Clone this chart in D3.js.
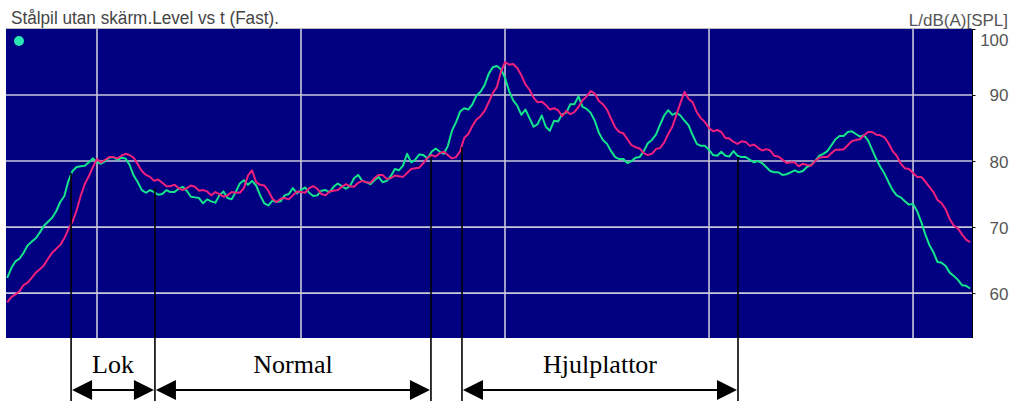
<!DOCTYPE html>
<html>
<head>
<meta charset="utf-8">
<script src="https://cdn.jsdelivr.net/npm/d3@7/dist/d3.min.js"></script>
<style>
  html, body { margin: 0; padding: 0; background: #fff; }
  svg { display: block; }
</style>
</head>
<body>
<svg id="chart"></svg>
<script>
// level vs time, read every 0.02 s starting at 0.56 s
const T0 = 0.56, DT = 0.02;

const green = [
  62.3, 63.8, 64.8, 65.2, 66.1, 67.2, 67.8, 68.3, 69.2, 70.2,
  70.8, 71.4, 72.4, 73.8, 74.7, 77.0, 78.5, 79.1, 79.2, 79.3,
  79.8, 80.4, 79.8, 79.6, 80.0, 80.5, 80.6, 80.2, 80.5, 80.4,
  79.4, 77.8, 76.8, 75.6, 75.2, 75.6, 75.3, 74.9, 75.0, 75.6,
  75.3, 75.3, 75.8, 76.1, 75.5, 74.6, 74.5, 74.4, 73.6, 74.2,
  73.9, 73.7, 74.8, 75.4, 74.4, 74.2, 75.3, 76.6, 77.1, 76.4,
  77.0, 76.3, 74.8, 73.6, 73.3, 74.0, 73.8, 73.9, 74.8, 75.0,
  75.9, 75.1, 75.6, 76.0, 75.2, 74.7, 74.8, 75.5, 75.6, 75.3,
  76.1, 76.6, 76.2, 75.8, 76.2, 77.4, 77.9, 77.0, 76.8, 76.5,
  77.1, 77.6, 76.8, 77.0, 77.7, 78.8, 78.6, 79.3, 81.1, 79.8,
  80.2, 81.0, 80.9, 80.4, 81.4, 81.9, 81.4, 81.1, 82.3, 84.6,
  85.9, 87.5, 88.0, 87.8, 88.6, 89.9, 90.5, 91.5, 93.2, 94.2,
  94.4, 93.9, 92.6, 90.6, 89.2, 88.4, 87.0, 87.8, 86.5, 85.2,
  85.6, 86.9, 85.2, 84.6, 86.1, 86.0, 87.1, 87.3, 88.6, 88.6,
  89.8, 88.2, 87.9, 87.3, 86.1, 84.3, 83.2, 82.6, 81.5, 80.6,
  80.3, 80.3, 79.7, 80.0, 80.5, 80.6, 81.5, 82.7, 83.2, 84.0,
  85.5, 86.9, 87.7, 87.0, 87.3, 86.9, 86.1, 85.4, 83.9, 82.6,
  82.3, 82.3, 81.7, 80.9, 80.8, 81.4, 80.8, 80.7, 81.5, 80.8,
  80.6, 80.6, 80.2, 79.8, 80.0, 79.7, 79.1, 78.5, 78.3, 78.3,
  77.9, 78.0, 78.3, 78.6, 78.3, 78.5, 79.1, 79.4, 80.0, 80.8,
  81.1, 81.5, 82.4, 83.3, 83.8, 83.8, 84.4, 84.5, 84.1, 83.7,
  83.9, 83.1, 81.7, 80.3, 79.1, 78.1, 76.8, 75.6, 74.8, 74.5,
  73.9, 73.4, 73.5, 72.4, 70.8, 68.9, 67.3, 66.2, 64.7, 64.6,
  64.1, 63.1, 62.6, 62.0, 61.2, 61.1, 60.7
];

const pink = [
  58.6, 59.4, 59.8, 60.3, 61.2, 61.6, 62.3, 63.1, 63.6, 64.2,
  65.2, 66.1, 66.7, 67.3, 68.3, 69.7, 70.8, 72.5, 74.7, 76.5,
  77.7, 79.1, 80.3, 79.8, 80.2, 80.6, 80.6, 80.4, 80.8, 81.1,
  80.9, 80.5, 79.5, 78.5, 77.9, 77.6, 77.0, 77.2, 76.7, 76.2,
  76.2, 76.4, 75.9, 75.6, 75.9, 76.3, 76.1, 75.5, 75.6, 75.4,
  74.8, 75.3, 75.0, 74.6, 74.8, 75.3, 75.2, 75.2, 75.9, 77.8,
  78.6, 76.8, 76.4, 76.3, 75.5, 74.3, 73.8, 74.3, 74.4, 74.2,
  74.8, 75.4, 75.3, 75.2, 75.9, 76.2, 75.8, 75.0, 74.8, 75.4,
  75.5, 75.6, 76.1, 76.5, 76.2, 76.1, 76.7, 77.0, 76.8, 76.7,
  77.4, 77.9, 77.9, 77.3, 77.4, 77.8, 77.7, 77.6, 78.2, 78.8,
  78.9, 79.0, 79.7, 80.5, 80.9, 80.7, 81.2, 81.4, 80.9, 80.4,
  80.6, 81.5, 83.5, 84.1, 85.3, 86.3, 86.8, 87.6, 88.9, 90.3,
  91.2, 93.5, 95.0, 94.6, 94.7, 94.1, 93.0, 91.6, 90.8, 89.6,
  88.9, 89.0, 88.5, 87.8, 88.0, 87.7, 86.8, 87.6, 87.1, 87.4,
  88.2, 89.2, 89.8, 90.6, 90.2, 89.1, 88.6, 87.8, 86.4, 85.1,
  84.4, 84.2, 83.3, 82.4, 82.1, 81.9, 81.2, 80.9, 81.1, 81.8,
  82.0, 82.8, 84.1, 85.2, 87.0, 88.8, 90.5, 89.4, 88.9, 87.4,
  86.5, 85.9, 85.0, 84.5, 84.7, 84.4, 83.5, 83.4, 82.9, 82.6,
  83.0, 82.9, 82.3, 82.5, 82.0, 81.6, 81.8, 81.6, 80.8, 80.7,
  80.2, 79.7, 79.8, 79.8, 79.2, 79.6, 79.4, 79.3, 80.0, 80.5,
  80.6, 80.6, 81.2, 81.7, 81.7, 81.8, 82.4, 83.0, 83.2, 83.3,
  83.9, 84.4, 84.4, 84.0, 83.9, 83.6, 82.7, 81.5, 80.8, 79.6,
  78.9, 78.8, 78.2, 77.6, 77.6, 76.9, 76.1, 75.3, 74.1, 73.6,
  72.7, 71.2, 70.2, 69.8, 68.9, 68.1, 67.7
];

const yTicks = [60, 70, 80, 90, 100];
const xGrid = [1, 2, 3, 4, 5];

// segments marked under the plot: start/end time and level where the marker meets the curve
const segNames = ["Lok", "Normal", "Hjulplattor"];
const segStart = [0.873, 1.284, 2.789];
const segEnd = [1.284, 2.637, 4.142];
const markT = [0.873, 1.284, 2.637, 2.789, 4.142];
const markL = [78.2, 75.9, 80.6, 82.1, 80.6];

const titleText = "Stålpil utan skärm.Level vs t (Fast).";
const unitText = "L/dB(A)[SPL]";

const W = 1012, H = 401;
const plot = { left: 6, right: 972, top: 29, bottom: 338 };

const svg = d3.select("#chart").attr("width", W).attr("height", H);

const x = d3.scaleLinear().domain([0.554, 5.289]).range([plot.left, plot.right]);
const y = d3.scaleLinear().domain([53.2, 100]).range([plot.bottom, plot.top]);

svg.append("defs").append("clipPath").attr("id", "clip")
  .append("rect")
  .attr("x", plot.left).attr("y", plot.top)
  .attr("width", plot.right - plot.left).attr("height", plot.bottom - plot.top);

svg.append("rect")
  .attr("x", plot.left).attr("y", plot.top)
  .attr("width", plot.right - plot.left).attr("height", plot.bottom - plot.top)
  .attr("fill", "#000080");

// grid
svg.append("g").selectAll("line").data(yTicks.filter(d => d < 100)).join("line")
  .attr("x1", plot.left).attr("x2", plot.right)
  .attr("y1", d => y(d)).attr("y2", d => y(d))
  .attr("stroke", "#c8c8da").attr("stroke-width", 1.6);

svg.append("g").selectAll("line").data(xGrid).join("line")
  .attr("x1", d => x(d)).attr("x2", d => x(d))
  .attr("y1", plot.top).attr("y2", plot.bottom)
  .attr("stroke", "#c8c8da").attr("stroke-width", 1.6);

// top border and right axis
svg.append("line")
  .attr("x1", plot.left).attr("x2", plot.right)
  .attr("y1", plot.top - 0.5).attr("y2", plot.top - 0.5)
  .attr("stroke", "#bbb").attr("stroke-width", 1);

const axis = d3.axisRight(y).tickValues(yTicks).tickSize(3).tickFormat(d3.format("d"));
const ax = svg.append("g")
  .attr("transform", `translate(${plot.right + 0.5},0)`)
  .call(axis);
ax.select(".domain").attr("stroke", "#000").attr("d", `M0,${plot.top}V${plot.bottom}`);
ax.selectAll(".tick line").attr("stroke", "#000");
ax.selectAll(".tick text")
  .attr("x", 36)
  .attr("text-anchor", "end")
  .attr("fill", "#555")
  .style("font", "17px 'Liberation Sans', Arial, sans-serif")
  .attr("dy", d => d === 100 ? "0.95em" : "0.35em");

// series
const line = d3.line()
  .x((d, i) => x(T0 + i * DT))
  .y(d => y(d));

const lines = svg.append("g").attr("clip-path", "url(#clip)");
lines.append("path").datum(green)
  .attr("d", line).attr("fill", "none")
  .attr("stroke", "#14e48c").attr("stroke-width", 2).attr("stroke-linejoin", "round");
lines.append("path").datum(pink)
  .attr("d", line).attr("fill", "none")
  .attr("stroke", "#f0207c").attr("stroke-width", 2).attr("stroke-linejoin", "round");

// legend dot
svg.append("circle")
  .attr("cx", 19).attr("cy", 41).attr("r", 5)
  .attr("fill", "#2ae6b4");

// titles
svg.append("text")
  .attr("x", 11).attr("y", 24)
  .attr("textLength", 268).attr("lengthAdjust", "spacingAndGlyphs")
  .attr("fill", "#444")
  .style("font", "18px 'Liberation Sans', Arial, sans-serif")
  .text(titleText);

svg.append("text")
  .attr("x", 1008).attr("y", 26)
  .attr("text-anchor", "end")
  .attr("fill", "#555")
  .style("font", "17px 'Liberation Sans', Arial, sans-serif")
  .text(unitText);

// segment markers
svg.append("g").selectAll("line").data(markT).join("line")
  .attr("x1", d => x(d)).attr("x2", d => x(d))
  .attr("y1", (d, i) => y(markL[i])).attr("y2", H)
  .attr("stroke", "#000").attr("stroke-width", 1.6);

const arrowY = 390;
const seg = svg.append("g").selectAll("g").data(segNames).join("g");
seg.append("line")
  .attr("x1", (d, i) => x(segStart[i]) + 4).attr("x2", (d, i) => x(segEnd[i]) - 4)
  .attr("y1", arrowY).attr("y2", arrowY)
  .attr("stroke", "#000").attr("stroke-width", 2);
seg.append("path")
  .attr("d", (d, i) => {
    const a = x(segStart[i]) + 1, b = x(segEnd[i]) - 1;
    return `M${a},${arrowY}L${a + 20},${arrowY - 10}L${a + 20},${arrowY + 10}Z` +
           `M${b},${arrowY}L${b - 20},${arrowY - 10}L${b - 20},${arrowY + 10}Z`;
  })
  .attr("fill", "#000");
seg.append("text")
  .attr("x", (d, i) => (x(segStart[i]) + x(segEnd[i])) / 2)
  .attr("y", 373)
  .attr("text-anchor", "middle")
  .attr("fill", "#000")
  .style("font", "26px 'Liberation Serif', 'Times New Roman', serif")
  .text(d => d);
</script>
</body>
</html>
